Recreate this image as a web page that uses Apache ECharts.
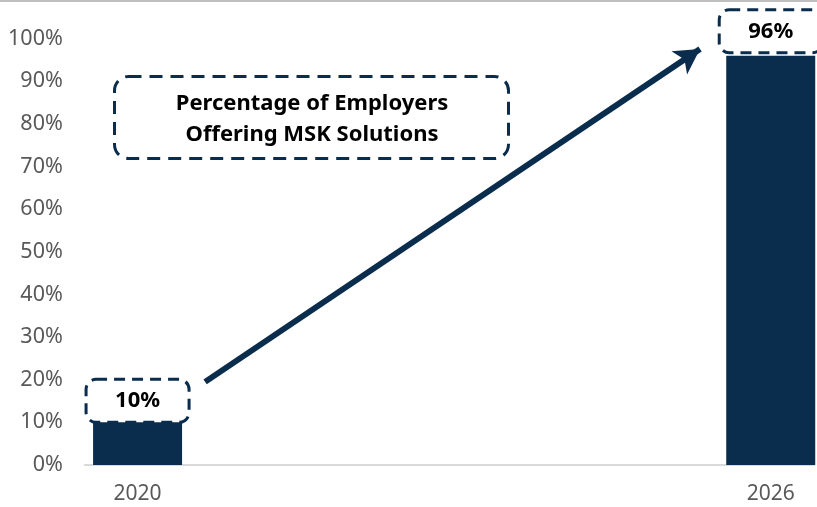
<!DOCTYPE html>
<html>
<head>
<meta charset="utf-8">
<style>
  html, body { margin: 0; padding: 0; background: #ffffff; }
  #chart { width: 817px; height: 507px; }
</style>
<script src="https://cdn.jsdelivr.net/npm/echarts@6/dist/echarts.min.js"></script>
</head>
<body>
<div id="chart"></div>
<script>
// ---- data ----
var categories = [2020, 2026];
var values = [10, 96];
var yTicks = [0, 10, 20, 30, 40, 50, 60, 70, 80, 90, 100];
var titleLines = ['Percentage of Employers', 'Offering MSK Solutions'];
var arrowFrom = [2020.64, 19.5];
var arrowTo = [2025.33, 97.6];

var NAVY = '#0b2d4d';
var FONT = 'Noto Sans';

var chart = echarts.init(document.getElementById('chart'), null, { renderer: 'canvas' });

var barData = categories.map(function (c, i) {
  var item = { value: [c, values[i]] };
  if (i === 1) { item.label = { distance: 3 }; }
  return item;
});

var option = {
  animation: false,
  backgroundColor: '#ffffff',
  grid: { left: 84.8, right: 0, top: 38.7, bottom: 42 },
  xAxis: {
    type: 'value',
    min: 2019.5,
    max: 2026.41,
    interval: 0.5,
    axisLine: { show: true, lineStyle: { color: '#d9d9d9', width: 2 } },
    axisTick: { show: false },
    splitLine: { show: false },
    axisLabel: {
      show: true,
      margin: 19,
      color: '#595959',
      fontFamily: FONT,
      fontSize: 21,
      showMinLabel: true,
      showMaxLabel: true,
      formatter: function (v) {
        return categories.indexOf(Math.round(v * 10) / 10) >= 0 ? String(v) : '';
      }
    }
  },
  yAxis: {
    type: 'value',
    min: yTicks[0],
    max: yTicks[yTicks.length - 1],
    interval: yTicks[1] - yTicks[0],
    axisLine: { show: false },
    axisTick: { show: false },
    splitLine: { show: false },
    axisLabel: {
      margin: 22,
      color: '#595959',
      fontFamily: FONT,
      fontSize: 21.5,
      formatter: '{value}%'
    }
  },
  series: [{
    type: 'bar',
    barWidth: 89,
    data: barData,
    itemStyle: { color: NAVY },
    label: {
      show: true,
      position: 'top',
      distance: 0,
      color: '#000000',
      fontFamily: FONT,
      fontWeight: 'bold',
      fontSize: 22,
      lineHeight: 27,
      borderColor: NAVY,
      borderWidth: 3,
      borderType: [11, 7],
      borderRadius: 10,
      padding: [8, 29, 8, 29],
      formatter: function (p) { return p.value[1] + '%'; }
    },
    markLine: {
      silent: true,
      animation: false,
      symbol: ['none', 'arrow'],
      symbolSize: [21, 25],
      label: { show: false },
      lineStyle: { color: NAVY, width: 6, type: 'solid', opacity: 1 },
      emphasis: { disabled: true },
      data: [[
        { coord: arrowFrom },
        { coord: arrowTo }
      ]]
    }
  }],
  graphic: [
    {
      type: 'line',
      shape: { x1: 0, y1: 1, x2: 817, y2: 1 },
      style: { stroke: '#bfbfbf', lineWidth: 2 },
      silent: true
    },
    {
      type: 'rect',
      shape: { x: 114.5, y: 76.5, width: 394, height: 82, r: 14 },
      style: { fill: 'none', stroke: NAVY, lineWidth: 3, lineDash: [13, 8] },
      silent: true
    },
    {
      type: 'text',
      x: 312,
      y: 119,
      style: {
        text: titleLines.join('\n'),
        fill: '#000000',
        font: 'bold 22px "' + FONT + '"',
        lineHeight: 31,
        align: 'center',
        verticalAlign: 'middle'
      },
      silent: true
    }
  ]
};

chart.setOption(option);
</script>
</body>
</html>
